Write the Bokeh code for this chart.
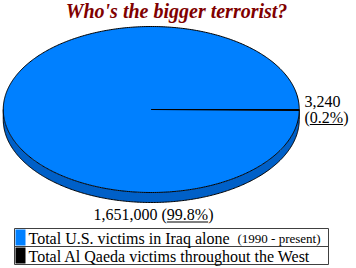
import numpy as np
from bokeh.plotting import figure
from bokeh.models import Range1d
from bokeh.core.properties import value
from bokeh.embed import file_html
from bokeh.resources import INLINE

# ---- data ----
title = "Who's the bigger terrorist?"
categories = ["Total U.S. victims in Iraq alone", "Total Al Qaeda victims throughout the West"]
notes = ["(1990 - present)", ""]
victims = [1651000, 3240]
top_colors = ["#0080FF", "#000000"]
side_colors = ["#0060C8", "#000000"]

FONT = value("Liberation Serif")
W, H = 356, 268
SHIFT = 5.0  # svg baseline correction
p = figure(width=W, height=H, output_backend="svg", toolbar_location=None,
           x_range=Range1d(0, W), y_range=Range1d(H, 0), min_border=0)
p.axis.visible = False
p.grid.visible = False
p.outline_line_color = None
p.background_fill_color = "white"

# pie geometry (pixel space)
cx, cy, rx, ry, depth = 150.75, 109.0, 148.0, 83.0, 10.0
total = float(sum(victims))
fracs = [v / total for v in victims]
ang = [(0.0, 2 * np.pi * fracs[0]), (2 * np.pi * fracs[0], 2 * np.pi)]

def pt(t):
    return cx + rx * np.cos(t), cy - ry * np.sin(t)

# side walls (lower half)
for (a0, a1), col in zip(ang, side_colors):
    lo, hi = max(a0, np.pi), min(a1, 2 * np.pi)
    if hi <= lo:
        continue
    t = np.linspace(lo, hi, 200)
    x, y = pt(t)
    xs = np.concatenate([x, x[::-1]])
    ys = np.concatenate([y, y[::-1] + depth])
    p.patch(xs, ys, fill_color=col, line_color=None)
t = np.linspace(np.pi, 2 * np.pi, 300)
x, y = pt(t)
p.line(x, y + depth, line_color="black", line_width=1)
p.segment([cx - rx, cx + rx], [cy, cy], [cx - rx, cx + rx], [cy + depth, cy + depth],
          line_color="black", line_width=1)

# top faces
for (a0, a1), col in zip(ang, top_colors):
    n = max(3, int(400 * (a1 - a0) / (2 * np.pi)))
    t = np.linspace(a0, a1, n)
    x, y = pt(t)
    xs = np.concatenate([[cx], x, [cx]])
    ys = np.concatenate([[cy], y, [cy]])
    p.patch(xs, ys, fill_color=col, line_color=None)
t = np.linspace(0, 2 * np.pi, 500)
x, y = pt(t)
p.line(x, y, line_color="black", line_width=1)
bx, by = pt(ang[1][0])
p.segment([cx, cx], [cy, cy], [bx, cx + rx], [by, cy], line_color="black", line_width=1)

# title
p.text(x=[176], y=[15 - SHIFT], text=[title], text_font=FONT, text_font_size="20px",
       text_font_style="bold italic", text_color="#800000", text_align="center",
       text_baseline="alphabetic")

EM = {"0": .5, "1": .5, "2": .5, "3": .5, "4": .5, "5": .5, "6": .5, "7": .5, "8": .5, "9": .5,
      ",": .25, ".": .25, " ": .25, "(": .333, ")": .333, "%": .833}
def tw(s, size=16):
    return sum(EM.get(c, .5) for c in s) * size

counts = [f"{v:,}" for v in victims]
pcts = [f"{f * 100:.1f}%" for f in fracs]

# label for small slice (right)
lx = 304
p.text(x=[lx], y=[106 - SHIFT], text=[counts[1]], text_font=FONT, text_font_size="16px",
       text_color="black", text_baseline="alphabetic")
p.text(x=[lx], y=[122 - SHIFT], text=["(" + pcts[1] + ")"], text_font=FONT, text_font_size="16px",
       text_color="black", text_baseline="alphabetic")
u0 = lx + tw("(")
p.segment([u0], [124], [u0 + tw(pcts[1])], [124], line_color="black", line_width=1)

# label for big slice (bottom)
s = counts[0] + " (" + pcts[0] + ")"
bxc = 153
sx = bxc - tw(s) / 2
p.text(x=[bxc], y=[219 - SHIFT], text=[s], text_font=FONT, text_font_size="16px",
       text_color="black", text_align="center", text_baseline="alphabetic")
u0 = sx + tw(counts[0] + " (")
p.segment([u0], [221.5], [u0 + tw(pcts[0])], [221.5], line_color="black", line_width=1)

# legend
L, R, T, M, B = 14, 328, 228, 246, 264
p.quad(left=[L], right=[R], top=[T], bottom=[B], fill_color="white", line_color="#404040", line_width=1)
p.segment([L], [M], [R], [M], line_color="#404040", line_width=1)
rows_top = [T + 1, M + 1]
rows_bot = [M - 1, B - 1]
p.quad(left=[L + 1, L + 1], right=[25, 25], top=rows_top, bottom=rows_bot,
       fill_color=top_colors, line_color=None)
p.text(x=[28, 28], y=[242.5 - SHIFT, 261 - SHIFT], text=categories, text_font=FONT, text_font_size="16px",
       text_color="black", text_baseline="alphabetic")
p.text(x=[237], y=[242.5 - SHIFT], text=[notes[0]], text_font=FONT, text_font_size="13px",
       text_color="black", text_baseline="alphabetic")

open("out.html", "w").write(file_html(p, INLINE))
